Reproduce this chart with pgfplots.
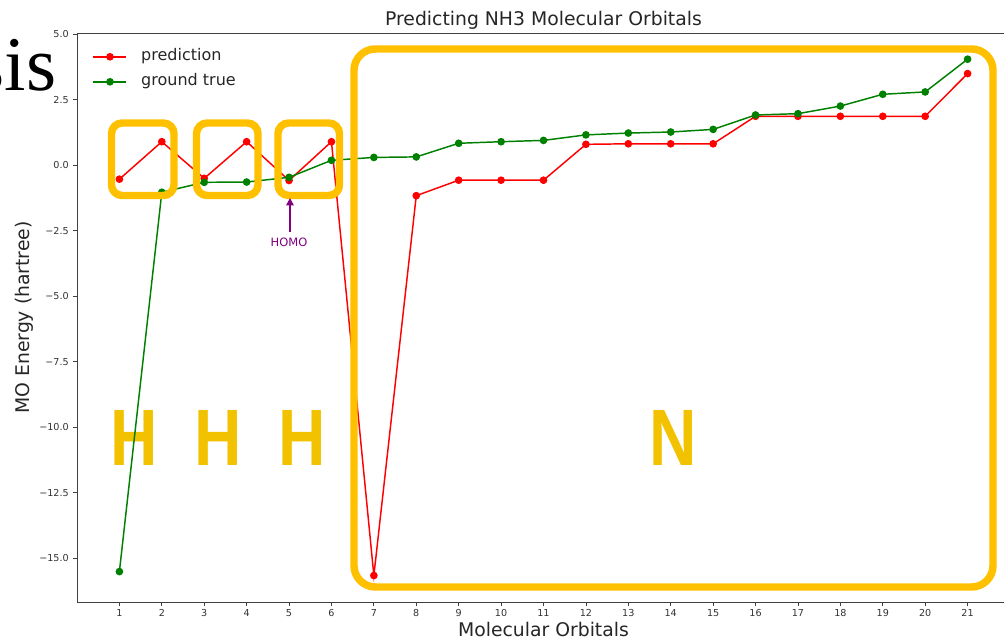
\documentclass[border=0pt]{standalone}
\usepackage{fontspec}
\setmainfont{DejaVu Sans}
\newfontfamily\serifsis{Liberation Serif}
\newfontfamily\boldsans{Liberation Sans}
\usepackage{pgfplots}
\pgfplotsset{compat=1.18}
\usetikzlibrary{arrows.meta}

\definecolor{boxgold}{RGB}{255,192,0}
\definecolor{letgold}{RGB}{242,194,0}
\definecolor{predred}{RGB}{255,0,0}
\definecolor{gtgreen}{RGB}{0,128,0}
\definecolor{homo}{RGB}{128,0,128}

\pgfplotstableread{
x y
1 -0.53
2 0.90
3 -0.50
4 0.90
5 -0.58
6 0.90
7 -15.66
8 -1.16
9 -0.57
10 -0.57
11 -0.57
12 0.80
13 0.82
14 0.82
15 0.82
16 1.87
17 1.87
18 1.87
19 1.87
20 1.87
21 3.50
}\prediction

\pgfplotstableread{
x y
1 -15.51
2 -1.03
3 -0.65
4 -0.64
5 -0.46
6 0.19
7 0.30
8 0.32
9 0.84
10 0.90
11 0.95
12 1.16
13 1.23
14 1.27
15 1.37
16 1.92
17 1.97
18 2.26
19 2.71
20 2.80
21 4.05
}\groundtrue

\begin{document}
\begin{tikzpicture}
\useasboundingbox (-57.75pt,-29.25pt) rectangle (695.25pt,451.5pt);

% big letters behind the curves (pixel frame of the slide)
\begin{scope}[x=0.75pt,y=-0.75pt,shift={(-57.75pt,451.5pt)}]
  \foreach \cx/\t in {133.7/H,218.4/H,302.5/H,673.5/N} {
    \node[anchor=base,inner sep=0pt,text=letgold,xscale=0.82,
      font=\boldsans\bfseries\fontsize{60pt}{60pt}\selectfont] at (\cx,466) {\t};
  }
\end{scope}

\begin{axis}[
    at={(0pt,0pt)}, anchor=south west,
    scale only axis, width=699.75pt, height=426.75pt,
    xmin=0, xmax=22, ymin=-16.67, ymax=5.05,
    xtick={1,...,21},
    ytick={-15,-12.5,-10,-7.5,-5,-2.5,0,2.5,5},
    yticklabels={−15.0,−12.5,−10.0,−7.5,−5.0,−2.5,0.0,2.5,5.0},
    xtick pos=bottom, ytick pos=left,
    tick align=outside, major tick length=3pt,
    tick style={black!75,line width=0.6pt},
    axis line style={black!75,line width=0.7pt},
    /pgf/number format/assume math mode=true,
    ticklabel style={font=\fontsize{7.2pt}{8pt}\selectfont,text=black!80},
    xticklabel style={anchor=north,inner sep=0pt,yshift=-2.25pt},
    yticklabel style={anchor=east,inner sep=0pt,xshift=-3pt},
    title={Predicting NH3 Molecular Orbitals},
    title style={at={(0.5,1)},anchor=base,yshift=-0.75pt,inner sep=0pt,
      font=\fontsize{14.1pt}{16pt}\selectfont,text=black!85},
    xlabel={Molecular Orbitals},
    xlabel style={at={(axis description cs:0.5,0)},anchor=base,yshift=-26.25pt,
      inner sep=0pt,font=\fontsize{14.1pt}{16pt}\selectfont,text=black!85},
    ylabel={MO Energy (hartree)},
    ylabel style={at={(axis description cs:-0.0509,0.5)},anchor=base,
      inner sep=0pt,font=\fontsize{14.1pt}{16pt}\selectfont,text=black!85},
    legend cell align=left,
    legend style={at={(axis description cs:0.0166,0.9715)},anchor=north west,
      draw=none,fill=none,inner sep=0pt,
      font=\fontsize{12pt}{14pt}\selectfont,text=black!85,
      nodes={inner sep=0pt,text height=8.6pt,text depth=2.4pt},
      row sep=7.75pt,column sep=10.5pt},
    legend image code/.code={
      \draw[mark repeat=2,mark phase=2]
        plot coordinates {(0pt,0pt)(12.375pt,0pt)(24.75pt,0pt)};},
  ]
  \addplot[predred,line width=1.1pt,mark=*,mark size=2.3pt,
    mark options={fill=predred,draw=predred}] table {\prediction};
  \addlegendentry{prediction}
  \addplot[gtgreen,line width=1.1pt,mark=*,mark size=2.3pt,
    mark options={fill=gtgreen,draw=gtgreen}] table {\groundtrue};
  \addlegendentry{ground true}
\end{axis}

% slide annotations on top
\begin{scope}[x=0.75pt,y=-0.75pt,shift={(-57.75pt,451.5pt)}]
  \draw[boxgold,line width=5.6pt,rounded corners=8pt] (111.5,123) rectangle (174,195.5);
  \draw[boxgold,line width=5.6pt,rounded corners=8pt] (196.5,123) rectangle (258,195.5);
  \draw[boxgold,line width=5.6pt,rounded corners=8pt] (278,123) rectangle (339.5,195.5);
  \draw[boxgold,line width=5.6pt,rounded corners=16pt] (354,49) rectangle (993,587);
  \draw[homo,line width=1.1pt,-{Triangle[width=5.5pt,length=5.5pt]}] (290,232) -- (290,198);
  \node[homo,anchor=base,inner sep=0pt,font=\fontsize{8.6pt}{9pt}\selectfont] at (289,247) {HOMO};
  \node[anchor=base east,inner sep=0pt,font=\serifsis\fontsize{58pt}{58pt}\selectfont] at (56.5,91) {sis};
\end{scope}
\end{tikzpicture}
\end{document}
